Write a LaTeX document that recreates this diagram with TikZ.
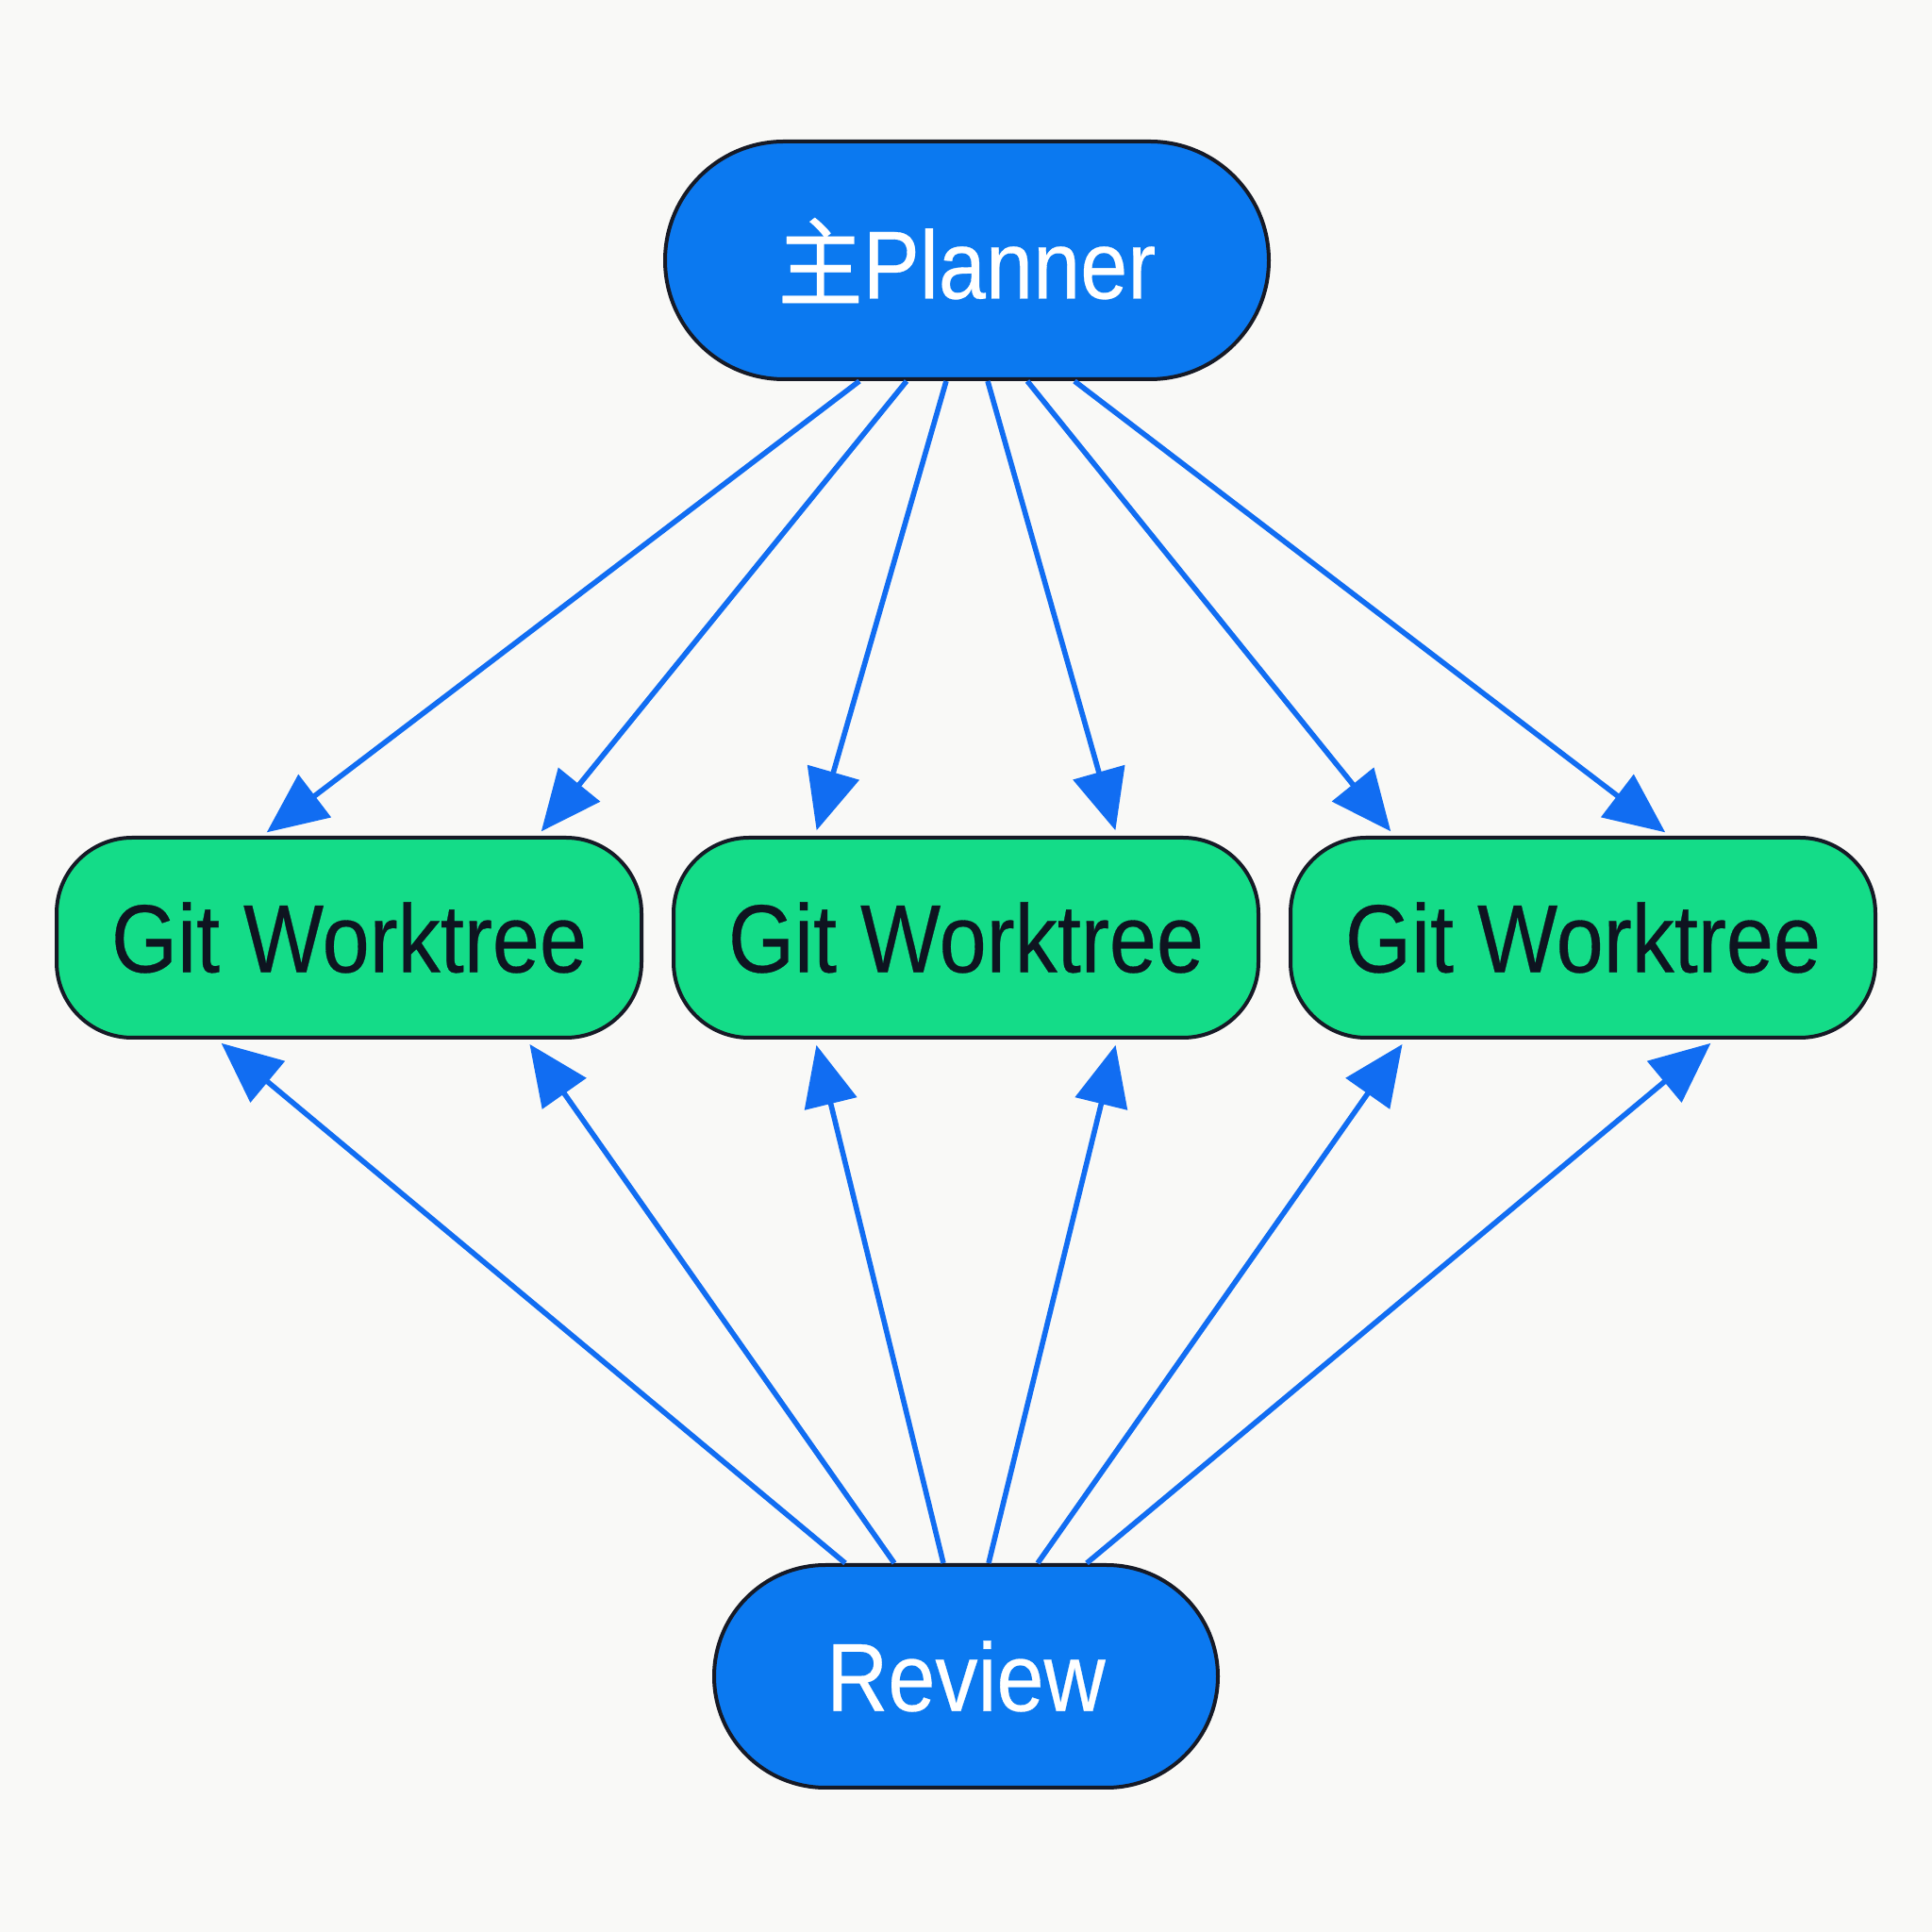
\documentclass[tikz,border=0pt]{standalone}
\usepackage{fontspec}
\setmainfont{Liberation Sans}[FakeStretch=0.88,FakeBold=0.3]
\newfontfamily\cjk{Noto Sans CJK SC}[FakeStretch=0.88,FakeBold=0.3]
\usepackage{tikz}
\usetikzlibrary{arrows.meta,shapes.misc}
\definecolor{paper}{HTML}{F9F9F7}
\definecolor{planblue}{HTML}{0B79F0}
\definecolor{treegreen}{HTML}{14DC88}
\definecolor{flowblue}{HTML}{116DF2}
\definecolor{rim}{HTML}{161A26}
\definecolor{ink}{HTML}{0E1420}
\tikzset{
  pill/.style={rounded rectangle, draw=rim, line width=1pt, fill=planblue,
    text=white, font=\fontsize{25.6}{30}\selectfont, inner sep=0pt},
  tree/.style={rectangle, rounded corners=20pt, draw=rim, line width=1pt,
    fill=treegreen, text=ink, font=\fontsize{25.6}{30}\selectfont,
    minimum width=155pt, minimum height=53pt, inner sep=0pt},
  flow/.style={flowblue, line width=1.4pt,
    -{Triangle[length=16pt,width=14pt]}, shorten >=1.5pt},
}

\begin{document}
\begin{tikzpicture}
  \fill[paper] (0,0) rectangle (512pt,512pt);
  \useasboundingbox (0,0) rectangle (512pt,512pt);
  \node[pill, minimum width=160pt, minimum height=63pt] (plan) at (256.25pt,443pt) {{\cjk 主}Planner};
  \node[tree] (wt1) at (92.5pt,263.5pt) {Git Worktree};
  \node[tree] (wt2) at (256pt,263.5pt) {Git Worktree};
  \node[tree] (wt3) at (419.5pt,263.5pt) {Git Worktree};
  \node[pill, minimum width=133.5pt, minimum height=59pt] (rev) at (256pt,67.75pt) {Review};
  \path
    ([xshift=-28.5pt]plan.south) edge[flow] ([xshift=-23pt]wt1.north)
    ([xshift=-16pt]plan.south) edge[flow] ([xshift=50pt]wt1.north)
    ([xshift=-5.5pt]plan.south) edge[flow] ([xshift=-40pt]wt2.north)
    ([xshift=5.5pt]plan.south) edge[flow] ([xshift=40pt]wt2.north)
    ([xshift=16pt]plan.south) edge[flow] ([xshift=-50pt]wt3.north)
    ([xshift=28.5pt]plan.south) edge[flow] ([xshift=23pt]wt3.north);
  \path
    ([xshift=-32pt]rev.north) edge[flow] ([xshift=-35pt]wt1.south)
    ([xshift=-19pt]rev.north) edge[flow] ([xshift=47pt]wt1.south)
    ([xshift=-6pt]rev.north) edge[flow] ([xshift=-40pt]wt2.south)
    ([xshift=6pt]rev.north) edge[flow] ([xshift=40pt]wt2.south)
    ([xshift=19pt]rev.north) edge[flow] ([xshift=-47pt]wt3.south)
    ([xshift=32pt]rev.north) edge[flow] ([xshift=35pt]wt3.south);
\end{tikzpicture}
\end{document}
